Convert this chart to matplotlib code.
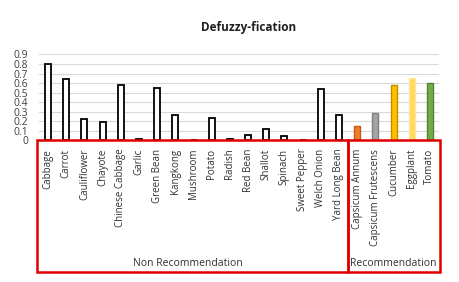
import matplotlib
matplotlib.use("Agg")
import matplotlib.pyplot as plt
from matplotlib.patches import Rectangle

plt.rcParams["font.family"] = ["Open Sans", "DejaVu Sans"]

# ── Data ──────────────────────────────────────────────────────────────────────
non_rec = ["Cabbage", "Carrot", "Cauliflower", "Chayote", "Chinese Cabbage",
           "Garlic", "Green Bean", "Kangkong", "Mushroom", "Potato", "Radish",
           "Red Bean", "Shallot", "Spinach", "Sweet Pepper", "Welch Onion",
           "Yard Long Bean"]
non_rec_vals = [0.80, 0.64, 0.22, 0.19, 0.58, 0.015, 0.55, 0.27, 0.0, 0.23,
                0.015, 0.06, 0.12, 0.05, 0.0, 0.54, 0.27]

rec = ["Capsicum Annum", "Capsicum Frutescens", "Cucumber", "Eggplant", "Tomato"]
rec_vals = [0.15, 0.29, 0.58, 0.65, 0.60]
rec_fill = ["#ED7D31", "#A5A5A5", "#FFC000", "#FFD966", "#70AD47"]
rec_edge = ["#C55A11", "#7F7F7F", "#BF9000", "#FFE699", "#548235"]

groups = ["Non Recommendation", "Recommendation"]
yticks = [0, 0.1, 0.2, 0.3, 0.4, 0.5, 0.6, 0.7, 0.8, 0.9]

cats = non_rec + rec
n_non = len(non_rec)
x = list(range(len(cats)))

fig = plt.figure(figsize=(4.6, 2.82), dpi=100)
ax = fig.add_axes([39 / 460, 1 - 140.4 / 282, 400 / 460, 86 / 282])

ax.bar(x[:n_non], non_rec_vals, width=0.33, color="white",
       edgecolor="black", linewidth=1.3, zorder=3)
ax.bar(x[n_non:], rec_vals, width=0.33, color=rec_fill,
       edgecolor=rec_edge, linewidth=1.0, zorder=3)

ax.set_xlim(-0.5, len(cats) - 0.5)
ax.set_ylim(0, 0.9)
ax.set_yticks(yticks)
ax.set_yticklabels([f"{v:g}" for v in yticks], fontsize=7.5, color="#404040")
ax.yaxis.grid(True, color="#D9D9D9", lw=0.8, zorder=0)
ax.tick_params(axis="y", length=0, pad=8)
ax.set_xticks(x)
ax.set_xticklabels(cats, rotation=90, fontsize=7, color="#303030")
ax.tick_params(axis="x", length=0, pad=6)
for s in ax.spines.values():
    s.set_visible(False)

# red category-group boxes below the axis
trans = ax.get_xaxis_transform()
box_bottom = -(272 - 140.4) / 86
for lo, hi in [(-0.6, n_non - 0.5), (n_non - 0.5, len(cats) - 0.45)]:
    ax.add_patch(Rectangle((lo, box_bottom), hi - lo, -box_bottom,
                           transform=trans, fill=False, edgecolor="#E00000",
                           lw=1.8, clip_on=False, zorder=5))
ax.text((n_non - 1) / 2 - 0.3, box_bottom + 0.03, groups[0], transform=trans,
        ha="center", va="bottom", fontsize=7.5, color="#303030")
ax.text(n_non + (len(rec) - 1) / 2, box_bottom + 0.03, groups[1], transform=trans,
        ha="center", va="bottom", fontsize=7.5, color="#303030")

fig.text(249 / 460, 1 - 28 / 282, "Defuzzy-fication", ha="center", va="center",
         fontsize=8.5, fontweight="bold", color="#202020")

fig.savefig("out.png", dpi=100)
